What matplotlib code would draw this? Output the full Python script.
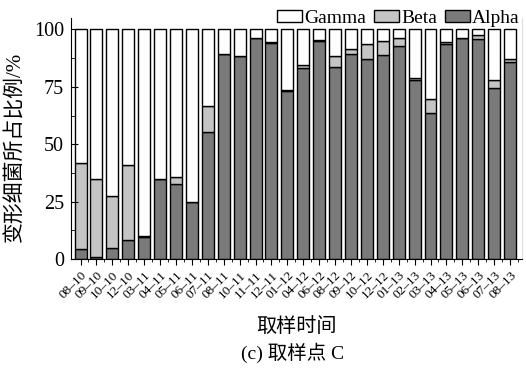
import matplotlib
matplotlib.use('Agg')
import matplotlib.pyplot as plt
import numpy as np
from matplotlib.ticker import MultipleLocator

plt.rcParams['font.family'] = ['Liberation Serif', 'Noto Sans CJK SC']
plt.rcParams['mathtext.fontset'] = 'stix'

months = ['08–10', '09–10', '10–10', '12–10', '03–11', '04–11', '05–11', '06–11',
          '07–11', '08–11', '10–11', '11–11', '12–11', '01–12', '04–12', '06–12',
          '08–12', '09–12', '10–12', '12–12', '01–13', '02–13', '03–13', '04–13',
          '05–13', '06–13', '07–13', '08–13']

# percentages read per sampling month
alpha = [4.3, 1.0, 4.8, 8.4, 9.6, 35.0, 32.6, 25.0, 55.3, 89.3, 88.4, 96.5, 94.2, 73.3,
         83.3, 94.8, 83.6, 89.1, 87.0, 89.0, 93.0, 78.0, 63.5, 93.6, 96.2, 96.0, 74.3, 85.8]
beta = [37.4, 33.8, 22.7, 32.7, 0.4, 0.0, 3.3, 0.0, 11.4, 0.0, 0.0, 0.0, 0.3, 0.3,
        1.2, 0.7, 4.8, 2.2, 6.5, 5.8, 3.2, 1.0, 6.3, 0.9, 0.3, 1.7, 3.7, 1.3]
gamma = [100 - a - b for a, b in zip(alpha, beta)]

fig = plt.figure(figsize=(5.26, 3.71), dpi=100)
ax = fig.add_axes([71 / 526, 1 - 259 / 371, 451 / 526, 241 / 371])

x = np.arange(len(months))
w = 0.75
kw = dict(width=w, edgecolor='black', linewidth=1.0)
b_a = ax.bar(x, alpha, color='#7a7a7a', label='Alpha', **kw)
b_b = ax.bar(x, beta, bottom=alpha, color='#c4c4c4', label='Beta', **kw)
b_g = ax.bar(x, gamma, bottom=np.add(alpha, beta), color='white', label='Gamma', **kw)

ax.set_xlim(-0.6, len(months) - 0.25)
ax.set_ylim(0, 105)
ax.set_yticks([0, 25, 50, 75, 100])
ax.yaxis.set_minor_locator(MultipleLocator(12.5))
ax.set_xticks(x)
ax.set_xticks(x + 0.5, minor=True)
ax.set_xticklabels(months, rotation=45, ha='right', rotation_mode='anchor', fontsize=9.5)
ax.tick_params(axis='y', which='both', direction='in', labelsize=14.5, pad=5)
ax.tick_params(axis='y', which='major', length=5)
ax.tick_params(axis='y', which='minor', length=3)
ax.tick_params(axis='x', which='major', direction='out', length=4)
ax.tick_params(axis='x', which='minor', direction='out', length=2.5)
ax.spines['top'].set_visible(False)
ax.spines['right'].set_color('#dddddd')

ax.set_ylabel('变形细菌所占比例/%', fontsize=15)
ax.yaxis.set_label_coords(-0.1, 0.465)
ax.set_xlabel('取样时间', fontsize=14.5, labelpad=12)

ax.legend(handles=[b_g, b_b, b_a], labels=['Gamma', 'Beta', 'Alpha'], ncol=3,
          loc='upper right', bbox_to_anchor=(0.995, 1.035), frameon=False, fontsize=14,
          handlelength=1.3, handleheight=0.55, handletextpad=0.1, columnspacing=0.4,
          borderaxespad=0, borderpad=0)

fig.text(293 / 526, 1 - 353 / 371, '(c) 取样点 C', ha='center', va='center', fontsize=14)

fig.savefig('out.png', dpi=100)
